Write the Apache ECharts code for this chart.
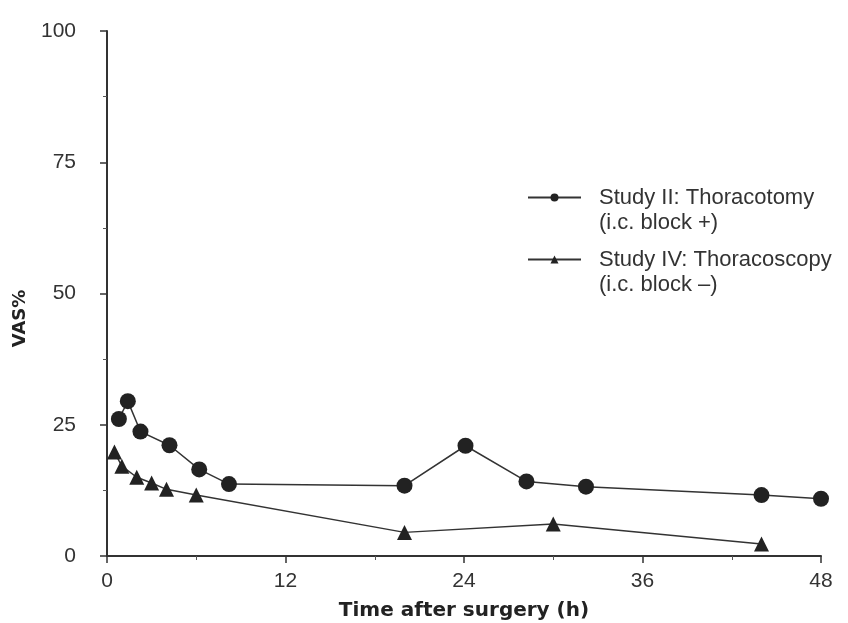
<!DOCTYPE html>
<html>
<head>
<meta charset="utf-8">
<script src="https://cdn.jsdelivr.net/npm/echarts@6/dist/echarts.min.js"></script>
<style>
  html, body { margin: 0; padding: 0; background: #fff; }
  #main { width: 848px; height: 623px; }
</style>
</head>
<body>
<div id="main"></div>
<script>
// data
const seriesNames = ['Study II: Thoracotomy', 'Study IV: Thoracoscopy']
const seriesSubs = ['(i.c. block +)', '(i.c. block \u2013)']

const thoracotomyHours = [0.8, 1.4, 2.25, 4.2, 6.2, 8.2, 20, 24.1, 28.2, 32.2, 44, 48]
const thoracotomyVas = [26.1, 29.5, 23.7, 21.1, 16.5, 13.7, 13.4, 21.0, 14.2, 13.2, 11.6, 10.9]

const thoracoscopyHours = [0.5, 1, 2, 3, 4, 6, 20, 30, 44]
const thoracoscopyVas = [19.8, 17.1, 15.0, 13.9, 12.7, 11.6, 4.5, 6.1, 2.3]

const xTicks = [0, 12, 24, 36, 48]
const yTicks = [0, 25, 50, 75, 100]

const font = 'Liberation Sans, Arial, sans-serif'
const boldFont = 'DejaVu Sans, Verdana, sans-serif'
const ink = '#222'

function pairs(xs, ys) {
  return xs.map((x, i) => [x, ys[i]])
}

const myChart = echarts.init(document.getElementById('main'))

const legendBase = {
  orient: 'vertical',
  left: 527,
  padding: 0,
  itemWidth: 53,
  itemHeight: 10,
  itemGap: 0,
  textStyle: {
    fontFamily: font,
    fontSize: 22,
    color: '#333',
    lineHeight: 25,
    rich: {
      sp: { width: 13, lineHeight: 25 },
      t: { fontFamily: font, fontSize: 22, color: '#333', lineHeight: 25 },
    },
  },
  // blank first line keeps the icon level with the series name
  formatter: function (name) {
    const sub = seriesSubs[seriesNames.indexOf(name)]
    return '{sp|}{t| }\n{sp|}{t|' + name + '}\n{sp|}{t|' + sub + '}'
  },
}

myChart.setOption({
  animation: false,
  grid: {
    left: 107,
    right: 27,
    top: 31,
    bottom: 67,
    outerBoundsMode: 'none',
  },
  legend: [
    Object.assign({}, legendBase, { data: [seriesNames[0]], top: 160 }),
    Object.assign({}, legendBase, { data: [seriesNames[1]], top: 222 }),
  ],
  xAxis: {
    type: 'value',
    min: xTicks[0],
    max: xTicks[xTicks.length - 1],
    interval: 12,
    name: 'Time after surgery (h)',
    nameLocation: 'middle',
    nameGap: 45,
    nameTextStyle: {
      fontFamily: boldFont,
      fontWeight: 'bold',
      fontSize: 20,
      color: '#222',
    },
    axisLine: { onZero: false, lineStyle: { color: '#333', width: 2 } },
    axisTick: { show: true, inside: false, length: 7, lineStyle: { color: '#333', width: 1.5 } },
    minorTick: { show: true, splitNumber: 2, length: 4, lineStyle: { color: '#555', width: 1 } },
    axisLabel: { fontFamily: font, fontSize: 21, color: '#333', margin: 15 },
    splitLine: { show: false },
  },
  yAxis: {
    type: 'value',
    min: yTicks[0],
    max: yTicks[yTicks.length - 1],
    interval: 25,
    name: 'VAS%',
    nameLocation: 'middle',
    nameGap: 78,
    nameTextStyle: {
      fontFamily: boldFont,
      fontWeight: 'bold',
      fontSize: 18,
      color: '#222',
      padding: [0, 50, 0, 0],
    },
    axisLine: { onZero: false, lineStyle: { color: '#333', width: 2 } },
    axisTick: { show: true, inside: false, length: 7, lineStyle: { color: '#333', width: 1.5 } },
    minorTick: { show: true, splitNumber: 2, length: 4, lineStyle: { color: '#555', width: 1 } },
    axisLabel: { fontFamily: font, fontSize: 21, color: '#333', margin: 31 },
    splitLine: { show: false },
  },
  series: [
    {
      name: seriesNames[0],
      type: 'line',
      data: pairs(thoracotomyHours, thoracotomyVas),
      symbol: 'circle',
      symbolSize: 16,
      clip: false,
      itemStyle: { color: ink },
      lineStyle: { color: '#333', width: 1.5 },
    },
    {
      name: seriesNames[1],
      type: 'line',
      data: pairs(thoracoscopyHours, thoracoscopyVas),
      symbol: 'triangle',
      symbolSize: 15,
      clip: false,
      itemStyle: { color: ink },
      lineStyle: { color: '#333', width: 1.5 },
    },
  ],
})
</script>
</body>
</html>
